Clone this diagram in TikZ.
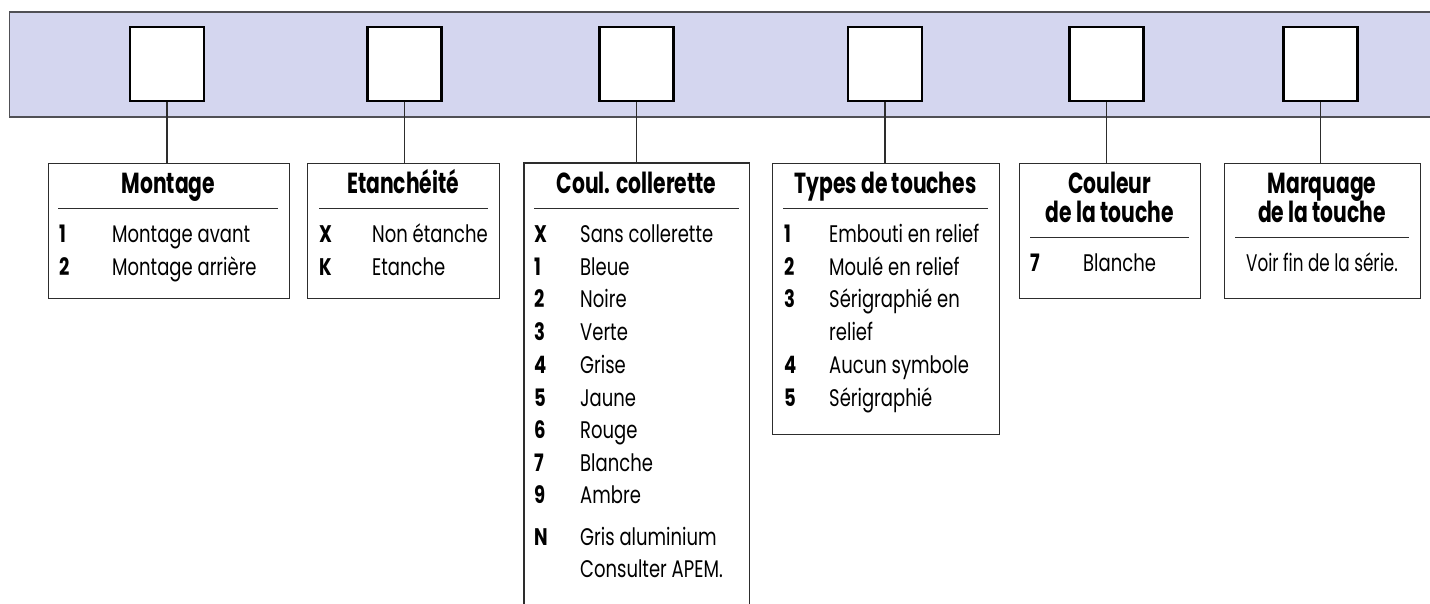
\documentclass[tikz,border=0pt]{standalone}
\usepackage{fontspec}
\setmainfont{Poppins}
\newfontfamily\ttlfont{Poppins}[FakeStretch=0.7]
\newfontfamily\itmfont{Poppins}[FakeStretch=0.75]
\newfontfamily\itcfont{Poppins}[FakeStretch=0.7]
\definecolor{bandfill}{RGB}{212,214,239}
\definecolor{bandline}{RGB}{80,80,85}
\definecolor{boxline}{RGB}{45,45,45}
\begin{document}
\begin{tikzpicture}[x=1pt,y=-1pt,
  sq/.style={draw=black,fill=white,line width=2.5pt,minimum size=74pt,inner sep=0pt,rectangle},
  bx/.style={draw=boxline,line width=1.3pt,rectangle,anchor=north west,inner sep=0pt},
  conn/.style={draw=boxline,line width=1.1pt},
  rulel/.style={draw=boxline,line width=0.9pt},
  ttl/.style={anchor=base,inner sep=0pt,font=\ttlfont\fontsize{29}{29}\bfseries\selectfont},
  lbl/.style={anchor=base west,inner sep=0pt,font=\itmfont\fontsize{24}{24}\bfseries\selectfont},
  itm/.style={anchor=base west,inner sep=0pt,font=\itmfont\fontsize{24}{24}\selectfont},
  itc/.style={anchor=base,inner sep=0pt,font=\itcfont\fontsize{24}{24}\selectfont}]
\useasboundingbox (0,0) rectangle (1430,603);
% band
\fill[bandfill] (9.5,12) rectangle (1432,117);
\draw[bandline,line width=1.5pt] (1432,12) -- (9.5,12) -- (9.5,117) -- (1432,117);
% squares
\node[sq] (s1) at (167,64) {};
\node[sq] (s2) at (404.5,64) {};
\node[sq] (s3) at (636.5,64) {};
\node[sq] (s4) at (885,64) {};
\node[sq] (s5) at (1106.5,64) {};
\node[sq] (s6) at (1320.5,64) {};
% boxes
\node[bx,minimum width=241.3pt,minimum height=135pt] (b1) at (47.7,163) {};
\node[bx,minimum width=192pt,minimum height=135pt] (b2) at (307,163) {};
\node[rectangle,anchor=north west,inner sep=0pt,minimum width=225pt,minimum height=445pt] (b3) at (524,163) {};
\draw[boxline,line width=1.3pt] (b3.south west) |- (b3.north east) -- (b3.south east);
\node[bx,minimum width=227pt,minimum height=271pt] (b4) at (772,163) {};
\node[bx,minimum width=181pt,minimum height=135pt] (b5) at (1019,163) {};
\node[bx,minimum width=196pt,minimum height=135pt] (b6) at (1224,163) {};
% connectors
\draw[conn] (s1.south) -- (s1.south |- b1.north);
\draw[conn] (s2.south) -- (s2.south |- b2.north);
\draw[conn] (s3.south) -- (s3.south |- b3.north);
\draw[conn] (s4.south) -- (s4.south |- b4.north);
\draw[conn] (s5.south) -- (s5.south |- b5.north);
\draw[conn] (s6.south) -- (s6.south |- b6.north);
% box 1
\node[ttl] (t1) at (168.4,193) {Montage};
\draw[rulel] (58,208) -- (278,208);
\node[lbl] (l11) at (59,242) {1};
\node[itm] (i11) at (112,242) {Montage avant};
\node[lbl] (l12) at (59,275) {2};
\node[itm] (i12) at (112,275) {Montage arrière};
% box 2
\node[ttl] (t2) at (403,193) {Etanchéité};
\draw[rulel] (319,208) -- (488,208);
\node[lbl] (l21) at (319,242) {X};
\node[itm] (i21) at (372,242) {Non étanche};
\node[lbl] (l22) at (319,275) {K};
\node[itm] (i22) at (372,275) {Etanche};
% box 3
\node[ttl] (t3) at (636.5,193) {Coul. collerette};
\draw[rulel] (534,208) -- (739,208);
\node[lbl] (l31) at (534,242) {X};   \node[itm] (i31) at (580,242) {Sans collerette};
\node[lbl] (l32) at (534,275) {1};   \node[itm] (i32) at (580,275) {Bleue};
\node[lbl] (l33) at (534,307.5) {2}; \node[itm] (i33) at (580,307.5) {Noire};
\node[lbl] (l34) at (534,340) {3};   \node[itm] (i34) at (580,340) {Verte};
\node[lbl] (l35) at (534,373) {4};   \node[itm] (i35) at (580,373) {Grise};
\node[lbl] (l36) at (534,406) {5};   \node[itm] (i36) at (580,406) {Jaune};
\node[lbl] (l37) at (534,438) {6};   \node[itm] (i37) at (580,438) {Rouge};
\node[lbl] (l38) at (534,471) {7};   \node[itm] (i38) at (580,471) {Blanche};
\node[lbl] (l39) at (534,503) {9};   \node[itm] (i39) at (580,503) {Ambre};
\node[lbl] (l3a) at (534,545) {N};   \node[itm] (i3a) at (580,545) {Gris aluminium};
\node[itm] (i3b) at (580,577) {Consulter APEM.};
% box 4
\node[ttl] (t4) at (885.5,193) {Types de touches};
\draw[rulel] (783,208) -- (988,208);
\node[lbl] (l41) at (784,242) {1};   \node[itm] (i41) at (829,242) {Embouti en relief};
\node[lbl] (l42) at (784,275) {2};   \node[itm] (i42) at (829,275) {Moulé en relief};
\node[lbl] (l43) at (784,307.5) {3}; \node[itm] (i43) at (829,307.5) {Sérigraphié en};
\node[itm] (i43b) at (829,340) {relief};
\node[lbl] (l44) at (784,373) {4};   \node[itm] (i44) at (829,373) {Aucun symbole};
\node[lbl] (l45) at (784,406) {5};   \node[itm] (i45) at (829,406) {Sérigraphié};
% box 5
\node[ttl] (t5a) at (1109.5,193) {Couleur};
\node[ttl] (t5b) at (1109.5,222) {de la touche};
\draw[rulel] (1030,237) -- (1189,237);
\node[lbl] (l51) at (1030,271) {7};
\node[itm] (i51) at (1083,271) {Blanche};
% box 6
\node[ttl] (t6a) at (1322,193) {Marquage};
\node[ttl] (t6b) at (1322,222) {de la touche};
\draw[rulel] (1235,237) -- (1409,237);
\node[itc] (i61) at (1322,271) {Voir fin de la série.};
\end{tikzpicture}
\end{document}
